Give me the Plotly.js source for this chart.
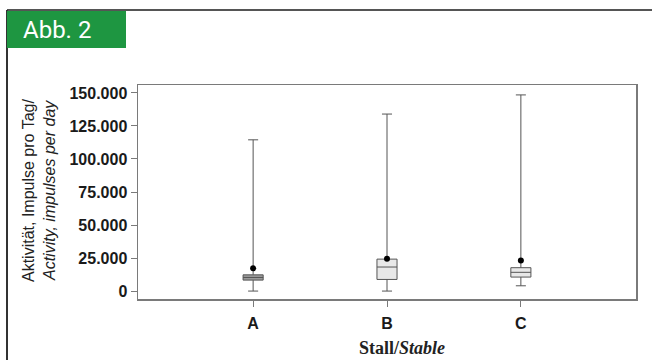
<!DOCTYPE html>
<html>
<head>
<meta charset="utf-8">
<script src="https://cdn.plot.ly/plotly-3.0.1.min.js"></script>
<style>html,body{margin:0;padding:0;background:#fff;}#chart{width:652px;height:360px;}</style>
</head>
<body>
<div id="chart"></div>
<script>
// ---- data ----
const categories = ['A', 'B', 'C'];
const lowerWhisker = [0, 0, 4000];
const q1Values = [8300, 8800, 10600];
const medianValues = [10300, 18200, 14200];
const q3Values = [12300, 24200, 17700];
const upperWhisker = [114500, 134000, 148500];
const dotValues = [17200, 24500, 23200];
const boxFills = ['#9a9a9a', '#e8e8e8', '#e8e8e8'];
const yTickVals = [0, 25000, 50000, 75000, 100000, 125000, 150000];
const yTickText = ['0', '25.000', '50.000', '75.000', '100.000', '125.000', '150.000'];

// ---- layout geometry (pixels) ----
const W = 652, H = 360;
const M = {l: 138, r: 16, t: 85, b: 61};
const pw = W - M.l - M.r, ph = H - M.t - M.b;
const px = x => (x - M.l) / pw;
const py = y => (H - M.b - y) / ph;

const traces = categories.map((c, i) => ({
  type: 'box',
  x: [c],
  q1: [q1Values[i]],
  median: [medianValues[i]],
  q3: [q3Values[i]],
  lowerfence: [lowerWhisker[i]],
  upperfence: [upperWhisker[i]],
  width: 0.15,
  whiskerwidth: 0.5,
  fillcolor: boxFills[i],
  line: {color: '#555', width: 1},
  boxpoints: false,
  showlegend: false,
  hoverinfo: 'skip'
}));
traces.push({
  type: 'scatter',
  mode: 'markers',
  x: categories,
  y: dotValues,
  marker: {color: '#000', size: 6},
  showlegend: false,
  hoverinfo: 'skip'
});

const layout = {
  width: W, height: H,
  margin: M,
  paper_bgcolor: '#fff',
  plot_bgcolor: '#fff',
  showlegend: false,
  boxmode: 'overlay',
  xaxis: {
    type: 'category',
    range: [-0.86, 2.86],
    showline: true, mirror: true, linecolor: '#7a7a7a', linewidth: 1.5,
    ticks: 'outside', ticklen: 6, tickcolor: '#7a7a7a', tickwidth: 1,
    showgrid: false, zeroline: false,
    tickfont: {family: 'Liberation Sans, Arial, sans-serif', size: 16, color: '#1a1a1a', weight: 'bold'},
    ticklabelstandoff: 3
  },
  yaxis: {
    range: [-6000, 156000],
    tickvals: yTickVals, ticktext: yTickText,
    showline: true, mirror: true, linecolor: '#7a7a7a', linewidth: 1.5,
    ticks: 'outside', ticklen: 6, tickcolor: '#7a7a7a', tickwidth: 1,
    showgrid: false, zeroline: false,
    tickfont: {family: 'Liberation Sans, Arial, sans-serif', size: 16, color: '#1a1a1a', weight: 'bold'}
  },
  shapes: [
    {type: 'line', xref: 'paper', yref: 'paper', x0: px(7), x1: px(652), y0: py(10), y1: py(10), line: {color: '#555', width: 2}},
    {type: 'line', xref: 'paper', yref: 'paper', x0: px(7), x1: px(7), y0: py(10), y1: py(360), line: {color: '#333', width: 2}},
    {type: 'rect', xref: 'paper', yref: 'paper', x0: px(7), x1: px(126), y0: py(11), y1: py(48), fillcolor: '#1e9641', line: {width: 0}}
  ],
  annotations: [
    {text: 'Abb. 2', xref: 'paper', yref: 'paper', x: px(21), y: py(30), xanchor: 'left', yanchor: 'middle', showarrow: false,
     font: {family: 'Roboto, sans-serif', size: 24, color: '#fff'}},
    {text: 'Aktivität, Impulse pro Tag/', xref: 'paper', yref: 'paper', x: px(28), y: py(191), xanchor: 'center', yanchor: 'middle', textangle: -90, showarrow: false,
     font: {family: 'Liberation Sans, Arial, sans-serif', size: 16, color: '#222'}},
    {text: '<i>Activity, impulses per day</i>', xref: 'paper', yref: 'paper', x: px(49), y: py(191), xanchor: 'center', yanchor: 'middle', textangle: -90, showarrow: false,
     font: {family: 'Liberation Sans, Arial, sans-serif', size: 16, color: '#222'}},
    {text: '<b>Stall/<i>Stable</i></b>', xref: 'paper', yref: 'paper', x: px(402), y: py(348), xanchor: 'center', yanchor: 'middle', showarrow: false,
     font: {family: 'Liberation Serif, Times New Roman, serif', size: 18, color: '#222'}}
  ]
};

Plotly.newPlot('chart', traces, layout, {displayModeBar: false, staticPlot: true});
</script>
</body>
</html>
